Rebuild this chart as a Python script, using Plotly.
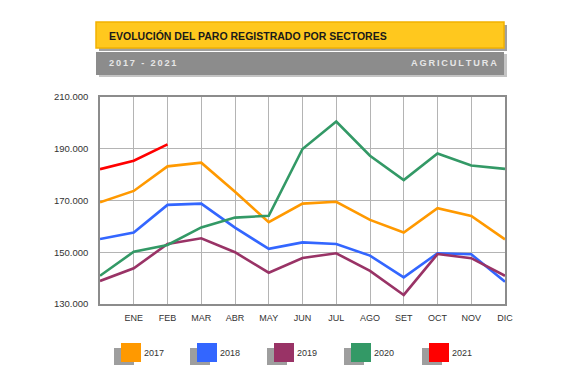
import plotly.graph_objects as go

months = ["", "ENE", "FEB", "MAR", "ABR", "MAY", "JUN", "JUL", "AGO", "SET", "OCT", "NOV", "DIC"]
y2017 = [169300, 173700, 183200, 184600, 173400, 161600, 168800, 169500, 162500, 157600, 167000, 164000, 155000]
y2018 = [155100, 157600, 168300, 168800, 159500, 151300, 153800, 153200, 148700, 140300, 149600, 149200, 138600]
y2019 = [138900, 143800, 153200, 155400, 150000, 142100, 147800, 149600, 142800, 133500, 149300, 147700, 140900]
y2020 = [140900, 150200, 152800, 159600, 163400, 164100, 189900, 200500, 187300, 177900, 188200, 183500, 182200]
y2021 = [182100, 185400, 191700]
series_names = ["2017", "2018", "2019", "2020", "2021"]
series_values = [y2017, y2018, y2019, y2020, y2021]
series_colors = ["#FF9900", "#3366FF", "#993366", "#339966", "#FF0000"]
y_ticks = [130000, 150000, 170000, 190000, 210000]
y_ticktext = ["130.000", "150.000", "170.000", "190.000", "210.000"]

OFF = 8  # page body margin
W, H = 580 - OFF, 375 - OFF
L, R, T, B = 100, 505, 97, 304

def px(x):
    return (x - L) / (R - L)

def py(y):
    return (B - y) / (B - T)

FONT = "Liberation Sans, Arial, sans-serif"

fig = go.Figure()
for name, vals, col in zip(series_names, series_values, series_colors):
    fig.add_trace(go.Scatter(x=list(range(len(vals))), y=vals, mode="lines", name=name,
                             line=dict(color=col, width=2.6), showlegend=False))

shapes = []
annotations = []
# header yellow bar with shadow
shapes.append(dict(type="rect", xref="paper", yref="paper", x0=px(99), x1=px(507), y0=py(51), y1=py(25),
                   fillcolor="#a0a0a0", line=dict(width=0), layer="below"))
shapes.append(dict(type="rect", xref="paper", yref="paper", x0=px(96), x1=px(504), y0=py(48), y1=py(22),
                   fillcolor="#FFC81E", line=dict(color="#F2B100", width=1.5), layer="below"))
# gray bar with shadow
shapes.append(dict(type="rect", xref="paper", yref="paper", x0=px(99), x1=px(507), y0=py(77), y1=py(54),
                   fillcolor="#c4c4c4", line=dict(width=0), layer="below"))
shapes.append(dict(type="rect", xref="paper", yref="paper", x0=px(96), x1=px(504), y0=py(75), y1=py(52),
                   fillcolor="#8C8C8C", line=dict(width=0), layer="below"))
annotations.append(dict(xref="paper", yref="paper", x=px(107), y=py(36), xanchor="left", yanchor="middle",
                        text="<b>EVOLUCIÓN DEL PARO REGISTRADO POR SECTORES</b>", showarrow=False,
                        font=dict(family=FONT, size=10.5, color="#1a1a1a")))
sp = "\u2009"
annotations.append(dict(xref="paper", yref="paper", x=px(107), y=py(63.5), xanchor="left", yanchor="middle",
                        text="<b>" + sp.join("2017 - 2021") + "</b>", showarrow=False,
                        font=dict(family=FONT, size=9.2, color="#E6E6E6")))
annotations.append(dict(xref="paper", yref="paper", x=px(499), y=py(63.5), xanchor="right", yanchor="middle",
                        text="<b>" + sp.join("AGRICULTURA") + "</b>", showarrow=False,
                        font=dict(family=FONT, size=9.2, color="#E6E6E6")))
# legend
leg_x = [121, 197, 274, 351, 429]
for lx, name, col in zip(leg_x, series_names, series_colors):
    shapes.append(dict(type="rect", xref="paper", yref="paper", x0=px(lx - 7), x1=px(lx + 13), y0=py(365), y1=py(348),
                       fillcolor="#9E9E9E", line=dict(width=0)))
    shapes.append(dict(type="rect", xref="paper", yref="paper", x0=px(lx), x1=px(lx + 20), y0=py(362), y1=py(343),
                       fillcolor=col, line=dict(width=0)))
    annotations.append(dict(xref="paper", yref="paper", x=px(lx + 21), y=py(353), xanchor="left", yanchor="middle",
                            text=name, showarrow=False,
                            font=dict(family=FONT, size=9, color="#333333")))

fig.update_layout(
    width=W, height=H, margin=dict(l=L - OFF, r=(580 - R), t=T - OFF, b=(375 - B)),
    paper_bgcolor="white", plot_bgcolor="white",
    shapes=shapes, annotations=annotations, showlegend=False,
    xaxis=dict(range=[0, 12], tickmode="array", tickvals=list(range(13)), ticktext=months,
               showgrid=True, gridcolor="#B4B4B4", gridwidth=1, zeroline=False,
               showline=True, linecolor="#8C8C8C", linewidth=1.5, mirror=True, ticks="",
               ticklabelstandoff=4,
               tickfont=dict(family=FONT, size=9, color="#333333")),
    yaxis=dict(range=[130000, 210000], tickmode="array", tickvals=y_ticks, ticktext=y_ticktext,
               showgrid=True, gridcolor="#B4B4B4", gridwidth=1, zeroline=False,
               showline=True, linecolor="#8C8C8C", linewidth=1.5, mirror=True, ticks="",
               ticklabelstandoff=8,
               tickfont=dict(family=FONT, size=9.5, color="#333333")),
)
fig.write_html("out.html")
